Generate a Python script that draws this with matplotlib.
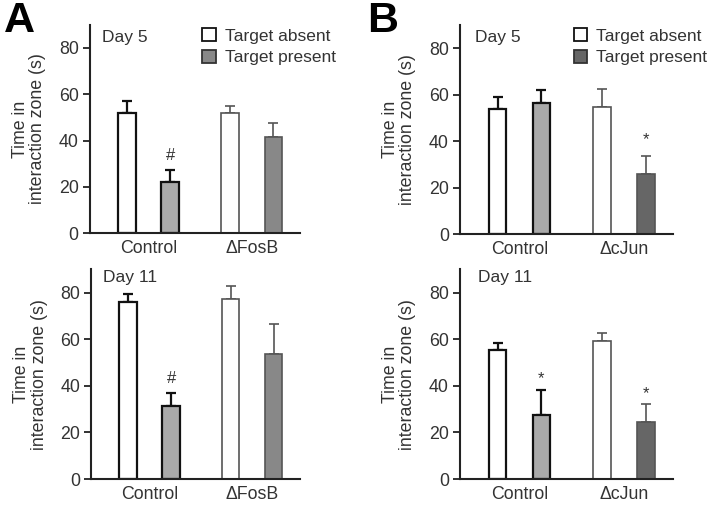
import matplotlib.pyplot as plt
from matplotlib.patches import Patch

plt.rcParams['font.family'] = ['Liberation Sans', 'DejaVu Sans']

# values (seconds)
groups_a = ['Control', '\u0394FosB']
groups_b = ['Control', '\u0394cJun']

a5_absent = [52, 52]
a5_absent_err = [5, 3]
a5_present = [22.3, 41.7]
a5_present_err = [5, 6]

a11_absent = [75.9, 77.2]
a11_absent_err = [3.4, 5.4]
a11_present = [31.5, 53.6]
a11_present_err = [5.3, 12.9]

b5_absent = [54, 54.7]
b5_absent_err = [4.9, 7.6]
b5_present = [56.6, 25.9]
b5_present_err = [5.4, 7.8]

b11_absent = [55.3, 59.3]
b11_absent_err = [3.2, 3.2]
b11_present = [27.5, 24.4]
b11_present_err = [10.7, 7.7]

# significance marks: (group index, y, symbol)
a5_marks = [(0, 33.5, '#')]
a11_marks = [(0, 43, '#')]
b5_marks = [(1, 40.5, '*')]
b11_marks = [(0, 43, '*'), (1, 36.5, '*')]

txt = '#333333'
light_gray = '#aaaaaa'
fosb_gray = '#888888'
cjun_gray = '#666666'
fs = 12.8


def draw_panel(ax, groups, absent, absent_err, present, present_err,
               mut_color, day, day_xy, marks, legend=False):
    off = 0.21
    w = 0.17
    for i in range(2):
        edge = '#111111' if i == 0 else '#555555'
        lw = 1.6 if i == 0 else 1.2
        pcol = light_gray if i == 0 else mut_color
        ax.bar(i - off, absent[i], w, color='white', edgecolor=edge, linewidth=lw, zorder=2)
        ax.errorbar(i - off, absent[i], yerr=[[0], [absent_err[i]]], fmt='none',
                    ecolor=edge, elinewidth=lw, capsize=3.5, capthick=lw, zorder=1)
        ax.bar(i + off, present[i], w, color=pcol, edgecolor=edge, linewidth=lw, zorder=2)
        ax.errorbar(i + off, present[i], yerr=[[0], [present_err[i]]], fmt='none',
                    ecolor=edge, elinewidth=lw, capsize=3.5, capthick=lw, zorder=1)
    for g, y, s in marks:
        ax.text(g + off, y, s, ha='center', va='center', fontsize=12, color=txt)

    ax.set_xlim(-0.57, 1.47)
    ax.set_ylim(0, 90)
    ax.set_yticks([0, 20, 40, 60, 80])
    ax.set_xticks([0, 1])
    ax.set_xticklabels(groups)
    ax.spines['top'].set_visible(False)
    ax.spines['right'].set_visible(False)
    for sp in ['left', 'bottom']:
        ax.spines[sp].set_linewidth(1.5)
        ax.spines[sp].set_color('#222222')
    ax.tick_params(axis='x', length=0, pad=5, labelsize=fs, labelcolor=txt)
    ax.tick_params(axis='y', length=5, width=1.3, color='#222222', pad=3,
                   labelsize=fs, labelcolor=txt)
    ax.set_ylabel('Time in\ninteraction zone (s)', fontsize=fs, color=txt,
                  linespacing=1.05, labelpad=9)
    ax.text(day_xy[0], day_xy[1], day, transform=ax.transAxes, fontsize=12.5,
            color=txt, ha='left', va='center')
    if legend:
        handles = [Patch(facecolor='white', edgecolor='#111111', linewidth=1.3),
                   Patch(facecolor=mut_color, edgecolor='#333333', linewidth=1.3)]
        ax.legend(handles, ['Target absent', 'Target present'], loc='upper left',
                  bbox_to_anchor=(0.46, 1.06), frameon=False, fontsize=12.5,
                  handlelength=0.8, handleheight=0.8, handletextpad=0.5,
                  labelspacing=0.35, labelcolor=txt)


fig = plt.figure(figsize=(7.13, 5.07), dpi=100)

ax1 = fig.add_axes([0.126, 0.540, 0.295, 0.411])
ax2 = fig.add_axes([0.128, 0.055, 0.293, 0.414])
ax3 = fig.add_axes([0.645, 0.538, 0.299, 0.413])
ax4 = fig.add_axes([0.645, 0.055, 0.299, 0.414])

draw_panel(ax1, groups_a, a5_absent, a5_absent_err, a5_present, a5_present_err,
           fosb_gray, 'Day 5', (0.06, 0.94), a5_marks, legend=True)
draw_panel(ax2, groups_a, a11_absent, a11_absent_err, a11_present, a11_present_err,
           fosb_gray, 'Day 11', (0.055, 0.96), a11_marks)
draw_panel(ax3, groups_b, b5_absent, b5_absent_err, b5_present, b5_present_err,
           cjun_gray, 'Day 5', (0.07, 0.94), b5_marks, legend=True)
draw_panel(ax4, groups_b, b11_absent, b11_absent_err, b11_present, b11_present_err,
           cjun_gray, 'Day 11', (0.085, 0.96), b11_marks)

fig.text(0.006, 0.958, 'A', fontsize=31, fontweight='bold', va='center', ha='left')
fig.text(0.515, 0.958, 'B', fontsize=31, fontweight='bold', va='center', ha='left')

fig.savefig('out.png', dpi=100)
